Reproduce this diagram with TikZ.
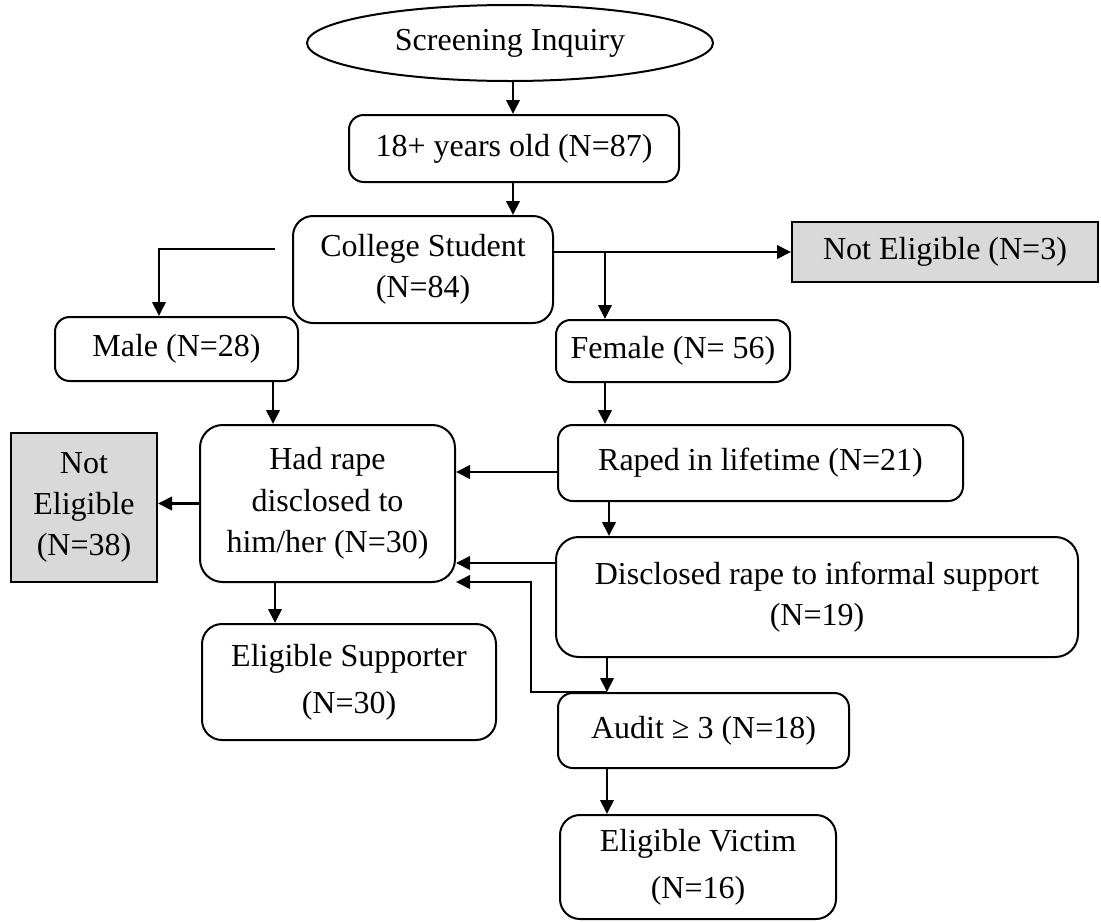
\documentclass[tikz,border=0pt]{standalone}
\usepackage{fontspec}
\setmainfont{Liberation Serif}
\usetikzlibrary{arrows.meta,shapes.geometric,calc}
\definecolor{boxgray}{HTML}{D9D9D9}
\begin{document}
\begin{tikzpicture}[x=0.75pt,y=-0.75pt,
  wh/.style 2 args={minimum width=#1*0.75pt,minimum height=#2*0.75pt},
  txt/.style={inner sep=0pt,align=center,font=\fontsize{24}{31}\selectfont},
  rbox/.style={draw,line width=1.5pt,rounded corners=11pt,txt},
  gbox/.style={draw,line width=1.5pt,fill=boxgray,txt},
  ebox/.style={draw,line width=1.5pt,ellipse,txt},
  wide/.style={font=\fontsize{24}{35}\selectfont},
  arr/.style={line width=2pt,-{Triangle[length=10.5pt,width=10pt]}}]
\useasboundingbox (0,0) rectangle (1101,922);

\node[ebox,wh={406}{76}] (scr) at (510,43) {Screening Inquiry};
\node[rbox,wh={330}{67}] (age) at (514,148.5) {18+ years old (N=87)};
\node[rbox,wh={260}{107},rounded corners=15pt] (col) at (423,269.5) {College Student\\(N=84)};
\node[gbox,wh={306}{60}] (ne3) at (945,252) {Not Eligible (N=3)};
\node[rbox,wh={243}{64}] (male) at (176.5,349) {Male (N=28)};
\node[rbox,wh={234}{62}] (fem) at (673,351) {Female (N= 56)};
\node[rbox,wh={255}{157},rounded corners=17pt] (had) at (327.5,503.5) {Had rape\\disclosed to\\him/her (N=30)};
\node[gbox,wh={146}{149}] (ne38) at (84,507.5) {Not\\Eligible\\(N=38)};
\node[rbox,wh={405}{76}] (raped) at (760.5,463) {Raped in lifetime (N=21)};
\node[rbox,wh={522}{120},rounded corners=17pt] (disc) at (817,597) {Disclosed rape to informal support\\(N=19)};
\node[rbox,wide,wh={294}{116},rounded corners=15pt] (sup) at (349,682) {Eligible Supporter\\(N=30)};
\node[rbox,wh={291}{75}] (audit) at (703.5,730.5) {Audit ≥ 3 (N=18)};
\node[rbox,wide,wh={276}{104},rounded corners=15pt] (vic) at (698,867) {Eligible Victim\\(N=16)};

% named anchor points
\coordinate (a1) at (scr.south -| 513,0);
\coordinate (cl) at ($(col.west)+(-17,-20.5)$);
\coordinate (mt) at ($(male.north)+(-17.5,0)$);
\coordinate (fb) at ($(fem.north)+(-68,0)$);
\coordinate (mb) at ($(male.south)+(96.5,0)$);
\coordinate (rb) at ($(raped.south)+(-151.5,0)$);
\coordinate (rw) at ($(raped.west)+(0,9)$);
\coordinate (dw) at ($(disc.west)+(0,-34)$);
\coordinate (db) at ($(disc.south)+(-210,0)$);
\coordinate (ad) at ($(audit.north)+(-96.5,0)$);
\coordinate (ab) at ($(audit.south)+(-96.5,0)$);
\coordinate (hc) at ($(had.east)+(0,78.5)$);
\coordinate (hb) at ($(had.south)+(-52.5,0)$);

\draw[arr] (a1) -- (a1 |- age.north);
\draw[arr] (age.south -| a1) -- (col.north -| a1);
\draw[arr] (cl) -| (mt);
\draw[arr] (col.east |- ne3.west) -- (ne3.west);
\draw[arr] (fb |- ne3.west) -- (fb);
\draw[arr] (fem.south -| fb) -- (raped.north -| fb);
\draw[arr] (mb) -- (mb |- had.north);
\draw[arr] (had.west) -- (had.west -| ne38.east);
\draw[arr] (rw) -- (rw -| had.east);
\draw[arr] (rb) -- (rb |- disc.north);
\draw[arr] (dw) -- (dw -| had.east);
\draw[arr] (db) -- (db |- audit.north);
\draw[arr] (ad) -- ++(-76,0) |- (hc);
\draw[arr] (hb) -- (hb |- sup.north);
\draw[arr] (ab) -- (ab |- vic.north);
\end{tikzpicture}
\end{document}
